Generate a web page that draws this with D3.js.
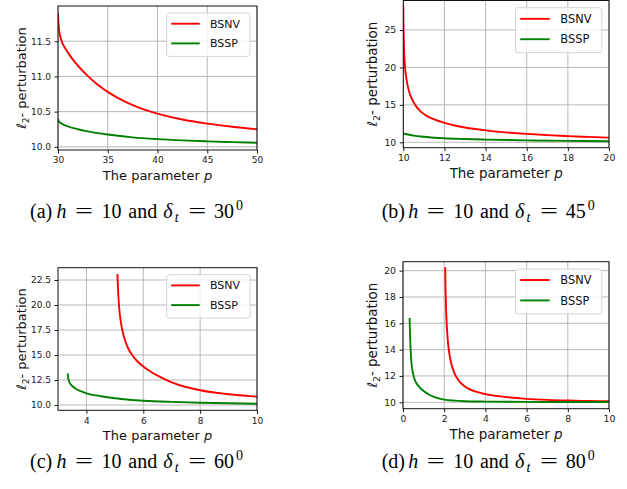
<!DOCTYPE html>
<html>
<head>
<meta charset="utf-8">
<script src="https://cdn.jsdelivr.net/npm/d3@7"></script>
<style>
  body { margin: 0; background: #fff; }
  svg { display: block; }
</style>
</head>
<body>
<svg id="fig" width="627" height="489"></svg>
<script>
// ---------- (a) h = 10, δt = 30° ----------
const xDomainA = [30, 50];
const yDomainA = [9.955, 12.0];
const xTicksA = [30, 35, 40, 45, 50];
const yTicksA = [10.0, 10.5, 11.0, 11.5];
const bsnvPA = [30, 30.02, 30.06, 30.12, 30.2, 30.3, 30.45, 30.65, 30.85, 31.1, 31.5, 32, 33, 34, 35, 36, 37, 38, 39, 40, 42.5, 45, 47.5, 50];
const bsnvVA = [11.90, 11.82, 11.73, 11.65, 11.585, 11.53, 11.47, 11.418, 11.371, 11.317, 11.239, 11.154, 11.005, 10.882, 10.78, 10.695, 10.625, 10.565, 10.515, 10.472, 10.388, 10.33, 10.285, 10.25];
const bsspPA = [30, 30.05, 30.2, 30.5, 31, 32, 33, 34, 35, 37.5, 40, 42.5, 45, 47.5, 50];
const bsspVA = [10.40, 10.37, 10.345, 10.32, 10.29, 10.25, 10.22, 10.195, 10.175, 10.135, 10.11, 10.092, 10.078, 10.067, 10.058];

// ---------- (b) h = 10, δt = 45° ----------
const xDomainB = [10, 20];
const yDomainB = [9.28, 28.94];
const xTicksB = [10, 12, 14, 16, 18, 20];
const yTicksB = [10, 15, 20, 25];
const bsnvPB = [10, 10.01, 10.03, 10.06, 10.1, 10.15, 10.25, 10.4, 10.6, 10.85, 11.1, 11.5, 12, 12.5, 13, 14, 15, 16, 17, 18, 19, 20];
const bsnvVB = [28.2, 25.5, 23.0, 21.0, 19.6, 18.5, 17.1, 15.9, 14.9, 14.1, 13.6, 13.05, 12.6, 12.25, 11.98, 11.6, 11.33, 11.12, 10.96, 10.83, 10.72, 10.62];
const bsspPB = [10, 10.5, 11, 12, 13, 14, 16, 18, 20];
const bsspVB = [11.18, 10.9, 10.75, 10.54, 10.44, 10.36, 10.26, 10.19, 10.14];

// ---------- (c) h = 10, δt = 60° ----------
const xDomainC = [3, 10];
const yDomainC = [9.47, 23.73];
const xTicksC = [4, 6, 8, 10];
const yTicksC = [10.0, 12.5, 15.0, 17.5, 20.0, 22.5];
const bsnvPC = [5.09, 5.1, 5.12, 5.15, 5.2, 5.27, 5.36, 5.48, 5.62, 5.8, 6.0, 6.25, 6.5, 7.0, 7.5, 8.0, 8.5, 9.0, 9.5, 10.0];
const bsnvVC = [23.1, 22.3, 21.1, 19.8, 18.5, 17.4, 16.45, 15.6, 14.95, 14.35, 13.85, 13.35, 12.93, 12.27, 11.8, 11.48, 11.25, 11.08, 10.945, 10.83];
const bsspPC = [3.34, 3.36, 3.4, 3.5, 3.6, 3.8, 4.0, 4.5, 5.0, 5.5, 6.0, 7.0, 8.0, 9.0, 10.0];
const bsspVC = [13.17, 12.7, 12.3, 11.9, 11.67, 11.38, 11.17, 10.88, 10.67, 10.53, 10.43, 10.31, 10.23, 10.17, 10.13];

// ---------- (d) h = 10, δt = 80° ----------
const xDomainD = [0, 10];
const yDomainD = [9.51, 20.68];
const xTicksD = [0, 2, 4, 6, 8, 10];
const yTicksD = [10, 12, 14, 16, 18, 20];
const bsnvPD = [2.05, 2.06, 2.08, 2.11, 2.15, 2.2, 2.27, 2.36, 2.5, 2.7, 3.0, 3.5, 4.0, 5.0, 6.0, 7.0, 8.0, 9.0, 10.0];
const bsnvVD = [20.25, 19.0, 17.6, 16.3, 15.2, 14.3, 13.5, 12.85, 12.2, 11.65, 11.2, 10.82, 10.62, 10.4, 10.26, 10.18, 10.13, 10.1, 10.08];
const bsspPD = [0.32, 0.34, 0.37, 0.41, 0.5, 0.6, 0.8, 1.0, 1.3, 1.6, 2.0, 2.5, 3.0, 4.0, 6.0, 8.0, 10.0];
const bsspVD = [16.4, 15.2, 14.0, 13.0, 12.1, 11.6, 11.15, 10.85, 10.55, 10.35, 10.2, 10.12, 10.08, 10.05, 10.03, 10.02, 10.02];

const seriesNames = ["BSNV", "BSSP"];
const seriesColors = ["#ff0000", "#008000"];
const captionLetters = ["a", "b", "c", "d"];
const captionAngles = ["30", "45", "60", "80"];

// Subplot frames (pixel boxes) and text scale per subplot
const panels = [
  { box: [58, 6, 257, 150],        s: 1.0,   fmt: ".1f", xd: xDomainA, yd: yDomainA, xt: xTicksA, yt: yTicksA,
    series: [[bsnvPA, bsnvVA], [bsspPA, bsspVA]] },
  { box: [403.3, 0.5, 609, 147.7], s: 1.035, fmt: "d",   xd: xDomainB, yd: yDomainB, xt: xTicksB, yt: yTicksB,
    series: [[bsnvPB, bsnvVB], [bsspPB, bsspVB]] },
  { box: [58, 267.7, 257, 410.3],  s: 1.0,   fmt: ".1f", xd: xDomainC, yd: yDomainC, xt: xTicksC, yt: yTicksC,
    series: [[bsnvPC, bsnvVC], [bsspPC, bsspVC]] },
  { box: [403, 261.7, 609, 408.7], s: 1.035, fmt: "d",   xd: xDomainD, yd: yDomainD, xt: xTicksD, yt: yTicksD,
    series: [[bsnvPD, bsnvVD], [bsspPD, bsspVD]] }
];

// Caption anchors: left x and baseline y
const captionPos = [[30, 218.3], [381.7, 218.3], [30, 468.3], [381.7, 468.3]];

const svg = d3.select("#fig");
const sans = "'DejaVu Sans', sans-serif";
const serif = "'Liberation Serif', 'Times New Roman', serif";

panels.forEach((P, i) => {
  const [x0, y0, x1, y1] = P.box;
  const s = P.s;
  const x = d3.scaleLinear().domain(P.xd).range([x0, x1]);
  const y = d3.scaleLinear().domain(P.yd).range([y1, y0]);
  const g = svg.append("g");

  // grid
  g.append("g").selectAll("line").data(P.xt).join("line")
    .attr("x1", d => x(d)).attr("x2", d => x(d)).attr("y1", y0).attr("y2", y1)
    .attr("stroke", "#b0b0b0").attr("stroke-width", 0.9);
  g.append("g").selectAll("line").data(P.yt).join("line")
    .attr("x1", x0).attr("x2", x1).attr("y1", d => y(d)).attr("y2", d => y(d))
    .attr("stroke", "#b0b0b0").attr("stroke-width", 0.9);

  // curves
  const clipId = "clip" + i;
  g.append("clipPath").attr("id", clipId).append("rect")
    .attr("x", x0).attr("y", y0).attr("width", x1 - x0).attr("height", y1 - y0);
  const line = d3.line().x(d => x(d[0])).y(d => y(d[1])).curve(d3.curveMonotoneX);
  P.series.forEach(([ps, vs], k) => {
    g.append("path")
      .datum(ps.map((p, j) => [p, vs[j]]))
      .attr("d", line)
      .attr("fill", "none")
      .attr("stroke", seriesColors[k])
      .attr("stroke-width", 1.9)
      .attr("stroke-linejoin", "round")
      .attr("clip-path", `url(#${clipId})`);
  });

  // axes
  const tickFont = 9 * s;
  const xAxis = g.append("g").attr("transform", `translate(0,${y1})`)
    .call(d3.axisBottom(x).tickValues(P.xt).tickFormat(d3.format("d")).tickSize(3.5).tickPadding(3.5));
  const yAxis = g.append("g").attr("transform", `translate(${x0},0)`)
    .call(d3.axisLeft(y).tickValues(P.yt).tickFormat(d3.format(P.fmt)).tickSize(3.5).tickPadding(3.5));
  [xAxis, yAxis].forEach(a => {
    a.select(".domain").remove();
    a.selectAll("line").attr("stroke", "#000").attr("stroke-width", 0.9);
    a.selectAll("text").attr("font-family", sans).attr("font-size", tickFont).attr("fill", "#1a1a1a");
  });

  // frame
  g.append("rect").attr("x", x0).attr("y", y0).attr("width", x1 - x0).attr("height", y1 - y0)
    .attr("fill", "none").attr("stroke", "#111").attr("stroke-width", 1);

  // axis labels
  const labFont = 13 * s;
  const xl = g.append("text")
    .attr("x", (x0 + x1) / 2).attr("y", y1 + 29.5 * s)
    .attr("text-anchor", "middle").attr("font-family", sans).attr("font-size", labFont).attr("fill", "#111");
  xl.append("tspan").text("The parameter ");
  xl.append("tspan").attr("font-style", "italic").text("p");

  const ylx = (i % 2 === 0) ? 21.5 : 372;
  const yl = g.append("text")
    .attr("transform", `translate(${ylx},${(y0 + y1) / 2}) rotate(-90)`)
    .attr("text-anchor", "middle").attr("font-family", sans).attr("font-size", labFont).attr("fill", "#111")
    .attr("dy", "0.35em");
  yl.append("tspan").attr("font-style", "italic").text("ℓ");
  yl.append("tspan").attr("font-size", labFont * 0.7).attr("dy", 3 * s).text("2");
  yl.append("tspan").attr("dy", -3 * s).text("- perturbation");

  // legend
  const lw = 83.3 * s, lh = 43.4 * s;
  const lx = x1 - 7 * s - lw, ly = y0 + 7 * s;
  const lg = g.append("g");
  lg.append("rect").attr("x", lx).attr("y", ly).attr("width", lw).attr("height", lh)
    .attr("rx", 2.5).attr("fill", "#fff").attr("fill-opacity", 0.8)
    .attr("stroke", "#d0d0d0").attr("stroke-width", 0.9);
  seriesNames.forEach((name, k) => {
    const ry = ly + (10.7 + k * 19.7) * s;
    lg.append("line").attr("x1", lx + 4.5 * s).attr("x2", lx + 33 * s).attr("y1", ry).attr("y2", ry)
      .attr("stroke", seriesColors[k]).attr("stroke-width", 1.9);
    lg.append("text").attr("x", lx + 43.3 * s).attr("y", ry).attr("dy", "0.36em")
      .attr("font-family", sans).attr("font-size", 11 * s).attr("fill", "#111").text(name);
  });

  // caption
  const [cx, cy] = captionPos[i];
  const cg = svg.append("g").attr("transform", `translate(${cx},${cy})`)
    .attr("font-family", serif).attr("font-size", 20).attr("fill", "#000");
  const piece = (dx, dy, txt, opts = {}) => {
    const t = cg.append("text").attr("x", dx).attr("y", dy).text(txt);
    if (opts.italic) t.attr("font-style", "italic");
    if (opts.size) t.attr("font-size", opts.size);
    if (opts.len) t.attr("textLength", opts.len).attr("lengthAdjust", "spacingAndGlyphs");
    return t;
  };
  piece(0, 0, `(${captionLetters[i]})`);
  piece(26.6, 0, "h", { italic: true });
  piece(45, 0, "=", { len: 18 });
  piece(71.6, 0, "10");
  piece(98.3, 0, "and");
  piece(133.3, 0, "δ", { italic: true });
  piece(144.8, 3.5, "t", { italic: true, size: 14 });
  piece(158.3, 0, "=", { len: 18 });
  piece(184, 0, captionAngles[i]);
  piece(206, -8, "0", { size: 14 });
});
</script>
</body>
</html>
